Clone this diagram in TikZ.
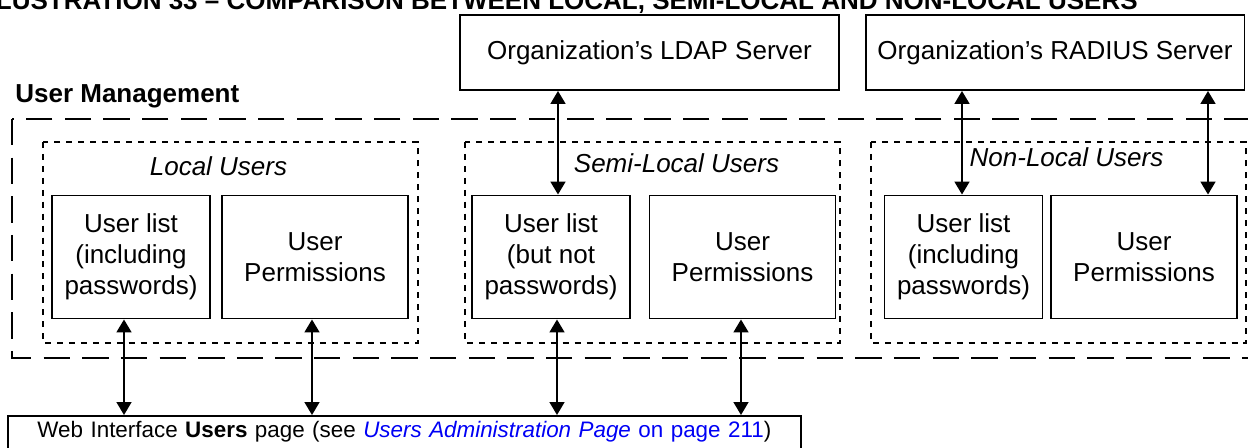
\documentclass[tikz,border=0pt]{standalone}
\usepackage{fontspec}
\setmainfont{Liberation Sans}
\usepackage{tikz}
\usetikzlibrary{arrows.meta,positioning}
\definecolor{linkblue}{RGB}{0,0,245}

\begin{document}
\begin{tikzpicture}[
                x=0.02cm, y=-0.02cm,
                font=\fontsize{14.8}{17.6}\selectfont,
                server/.style={rectangle, draw, line width=1.1pt, align=center,
                        minimum width=7.58cm, minimum height=1.5cm, inner sep=0pt},
                listbox/.style={rectangle, draw, line width=1.1pt, align=center,
                        minimum width=3.16cm, minimum height=2.46cm, inner sep=0pt},
                permbox/.style={listbox, minimum width=3.72cm},
                grouplabel/.style={font=\fontsize{14.8}{17.6}\selectfont\itshape, anchor=base},
                mgmtframe/.style={draw, line width=1.1pt, dash pattern=on 15pt off 7pt},
                groupframe/.style={draw, line width=0.95pt, dash pattern=on 3.4pt off 3.4pt},
                link/.style={draw, line width=1.1pt, {Triangle[length=7.4pt,width=8.5pt]}-{Triangle[length=7.4pt,width=8.5pt]}},
            ]
            \useasboundingbox (0,0) rectangle (1248,447);
            \clip (0,0) rectangle (1248,447);

            % ── Caption (cut at the top edge) ─────────────────────
            \node[font=\fontsize{14.8}{17.6}\selectfont\bfseries, anchor=base east, inner sep=0pt] (title) at (1138,9)
                {ILLUSTRATION 33 – COMPARISON BETWEEN LOCAL, SEMI-LOCAL AND NON-LOCAL USERS};

            % ── Servers ───────────────────────────────────────────
            \node[server] (ldap)   at ( 649.5,52.5) {Organization’s LDAP Server};
            \node[server] (radius) at (1055.0,52.5) {Organization’s RADIUS Server};

            % ── User management frame ─────────────────────────────
            \node[font=\fontsize{14.8}{17.6}\selectfont\bfseries, anchor=base west, inner sep=0pt] (mgmt) at (15,102) {User Management};
            \draw[mgmtframe] (12,119) rectangle (1262,358);

            % ── Local users ───────────────────────────────────────
            \draw[groupframe] (43,142) rectangle (418,343);
            \node[grouplabel] (lLocal) at (218.5,175) {Local Users};
            \node[listbox] (ulL) at (131,257) {User list\\(including\\passwords)};
            \node[permbox] (upL) at (315,257) {User\\Permissions};

            % ── Semi-local users ──────────────────────────────────
            \draw[groupframe] (465,142) rectangle (840,343);
            \node[grouplabel] (lSemi) at (676.5,172) {Semi-Local Users};
            \node[listbox] (ulS) at (551,257)   {User list\\(but not\\passwords)};
            \node[permbox] (upS) at (742.5,257) {User\\Permissions};

            % ── Non-local users ───────────────────────────────────
            \draw[groupframe] (871,142) rectangle (1246,343);
            \node[grouplabel] (lNon) at (1066.5,166) {Non-Local Users};
            \node[listbox] (ulN) at (963.5,257) {User list\\(including\\passwords)};
            \node[permbox] (upN) at (1144,257)  {User\\Permissions};

            % ── Web interface ─────────────────────────────────────
            \node[rectangle, draw, line width=1.1pt, anchor=north west, inner ysep=0pt, inner xsep=0.33cm,
                  text width=15.2cm, align=center, text height=0.44cm, text depth=0.3cm,
                  font=\fontsize{12.75}{15}\selectfont] (web) at (7,415)
                {Web Interface \textbf{Users} page (see \textcolor{linkblue}{\textit{Users Administration Page} on page 211})};

            % ── Connectors ────────────────────────────────────────
            \draw[link] (ldap.south -| 558,0)   -- (ulS.north -| 558,0);
            \draw[link] (radius.south -| 962,0) -- (ulN.north -| 962,0);
            \draw[link] (radius.south -| 1208,0) -- (upN.north -| 1208,0);
            \draw[link] (ulL.south -| 124,0) -- (web.north -| 124,0);
            \draw[link] (upL.south -| 312,0) -- (web.north -| 312,0);
            \draw[link] (ulS.south -| 557,0) -- (web.north -| 557,0);
            \draw[link] (upS.south -| 741,0) -- (web.north -| 741,0);
        \end{tikzpicture}
\end{document}
